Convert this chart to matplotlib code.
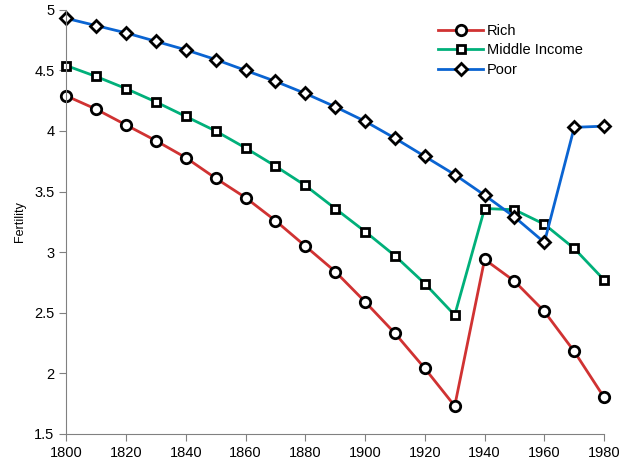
import matplotlib
matplotlib.use("Agg")
import matplotlib.pyplot as plt

plt.rcParams['font.family'] = ['Liberation Sans', 'DejaVu Sans']

years = [1800, 1810, 1820, 1830, 1840, 1850, 1860, 1870, 1880, 1890,
         1900, 1910, 1920, 1930, 1940, 1950, 1960, 1970, 1980]
rich = [4.29, 4.18, 4.05, 3.92, 3.78, 3.61, 3.45, 3.26, 3.05, 2.84,
        2.59, 2.33, 2.04, 1.73, 2.94, 2.76, 2.51, 2.18, 1.80]
middle = [4.54, 4.45, 4.35, 4.24, 4.12, 4.00, 3.86, 3.71, 3.55, 3.36,
          3.17, 2.97, 2.74, 2.48, 3.36, 3.35, 3.23, 3.03, 2.77]
poor = [4.93, 4.87, 4.81, 4.74, 4.67, 4.59, 4.50, 4.41, 4.31, 4.20,
        4.08, 3.94, 3.79, 3.64, 3.47, 3.29, 3.08, 4.03, 4.04]

fig = plt.figure(figsize=(6.19, 4.69), dpi=100)
ax = fig.add_axes([0.107, 0.075, 0.869, 0.904])

mk = dict(markerfacecolor='white', markeredgecolor='black', markeredgewidth=2, linewidth=2)
ax.plot(years, rich, color='#d03232', marker='o', markersize=7.5, label='Rich', **mk)
ax.plot(years, middle, color='#00b07a', marker='s', markersize=6, label='Middle Income', **mk)
ax.plot(years, poor, color='#0a64d2', marker='D', markersize=6, label='Poor', **mk)

ax.set_xlim(1800, 1980)
ax.set_ylim(1.5, 5)
ax.set_xticks(range(1800, 1981, 20))
ax.set_yticks([1.5, 2, 2.5, 3, 3.5, 4, 4.5, 5])
ax.set_yticklabels(['1.5', '2', '2.5', '3', '3.5', '4', '4.5', '5'])
for s in ['top', 'right']:
    ax.spines[s].set_visible(False)
for s in ['left', 'bottom']:
    ax.spines[s].set_color('#808080')
ax.tick_params(colors='#808080', labelcolor='black', labelsize=10.5, length=5)
ax.set_ylabel('Fertility', fontsize=9, labelpad=6)
for line in ax.lines:
    line.set_clip_on(False)

ax.legend(loc='upper left', bbox_to_anchor=(0.667, 0.998), frameon=False, fontsize=10.5,
          handlelength=3.1, labelspacing=0.38, handletextpad=0.25)

fig.savefig('out.png', dpi=100)
